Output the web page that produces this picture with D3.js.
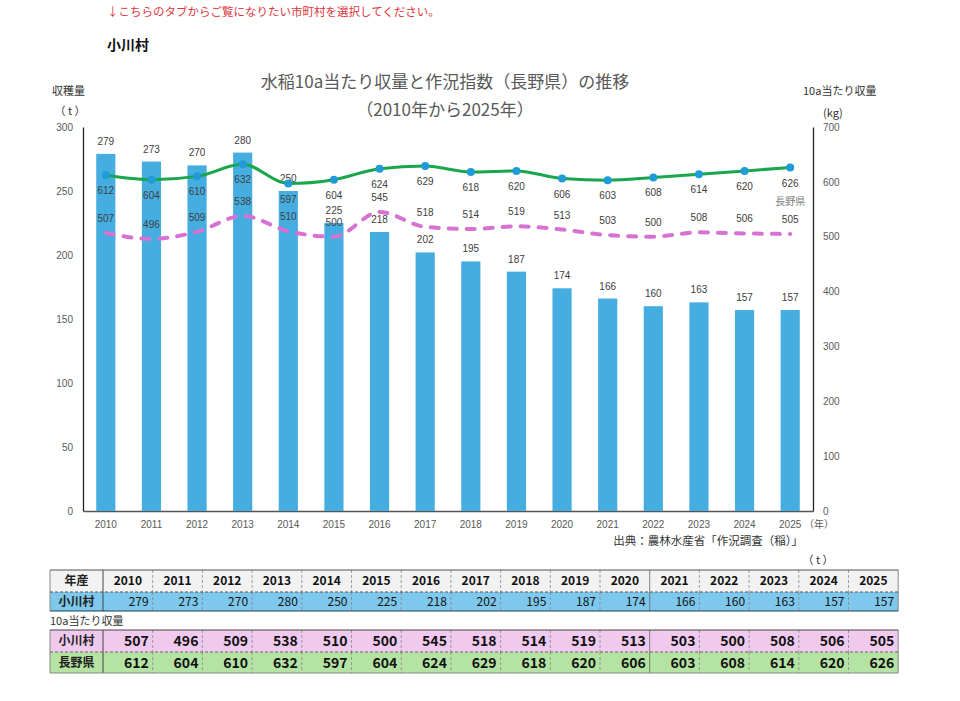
<!DOCTYPE html>
<html>
<head>
<meta charset="utf-8">
<script src="https://cdn.jsdelivr.net/npm/d3@7"></script>
<style>
  body { margin: 0; background: #fff; }
  svg { display: block; font-family: "Liberation Sans", Arial, sans-serif; }
  .jp { font-family: "Noto Sans CJK JP", "Noto Sans", sans-serif; }
</style>
</head>
<body>
<div class="chart"></div>
<script>
// data
var years = ["2010","2011","2012","2013","2014","2015","2016","2017","2018","2019","2020","2021","2022","2023","2024","2025"];
var harvest = [279, 273, 270, 280, 250, 225, 218, 202, 195, 187, 174, 166, 160, 163, 157, 157];   // 小川村 収穫量 (t)
var yieldOgawa = [507, 496, 509, 538, 510, 500, 545, 518, 514, 519, 513, 503, 500, 508, 506, 505]; // 小川村 10a当たり (kg)
var yieldNagano = [612, 604, 610, 632, 597, 604, 624, 629, 618, 620, 606, 603, 608, 614, 620, 626]; // 長野県 10a当たり (kg)
var leftTicks = [0, 50, 100, 150, 200, 250, 300];
var rightTicks = [0, 100, 200, 300, 400, 500, 600, 700];

function chart() {
    var plot = {left: 83, right: 813, top: 127, bottom: 511};

    var svg = d3.select(".chart").append("svg")
            .attr("width", 960)
            .attr("height", 701);

    var x = d3.scaleBand()
                .domain(years)
                .range([plot.left, plot.right])
                .paddingInner(0.58)
                .paddingOuter(0.29);

    var yL = d3.scaleLinear()
                .domain([0, 300])
                .range([plot.bottom, plot.top]);

    var yR = d3.scaleLinear()
                .domain([0, 700])
                .range([plot.bottom, plot.top]);

    // header texts
    svg.append("text").attr("class", "jp")
        .attr("x", 107).attr("y", 16)
        .attr("font-size", 11.5).attr("fill", "#e0353b")
        .text("↓こちらのタブからご覧になりたい市町村を選択してください。");
    svg.append("text").attr("class", "jp")
        .attr("x", 107).attr("y", 50)
        .attr("font-size", 14).attr("font-weight", "bold").attr("fill", "#111")
        .text("小川村");

    svg.append("text").attr("class", "jp")
        .attr("x", 445).attr("y", 88).attr("text-anchor", "middle")
        .attr("font-size", 17).attr("fill", "#595959")
        .text("水稲10a当たり収量と作況指数（長野県）の推移");
    svg.append("text").attr("class", "jp")
        .attr("x", 445).attr("y", 116).attr("text-anchor", "middle")
        .attr("font-size", 17).attr("fill", "#595959")
        .text("（2010年から2025年）");

    svg.append("text").attr("class", "jp")
        .attr("x", 52).attr("y", 95)
        .attr("font-size", 11).attr("fill", "#333")
        .text("収穫量");
    svg.append("text").attr("class", "jp")
        .attr("x", 70).attr("y", 115).attr("text-anchor", "middle")
        .attr("font-size", 11).attr("fill", "#333")
        .text("（ t ）");
    svg.append("text").attr("class", "jp")
        .attr("x", 803).attr("y", 95)
        .attr("font-size", 11).attr("fill", "#333")
        .text("10a当たり収量");
    svg.append("text").attr("class", "jp")
        .attr("x", 823).attr("y", 117)
        .attr("font-size", 11).attr("fill", "#333")
        .text("(kg)");

    // axes
    var yAxisL = d3.axisLeft(yL).tickValues(leftTicks).tickSize(0).tickPadding(10);
    var yAxisR = d3.axisRight(yR).tickValues(rightTicks).tickSize(0).tickPadding(10);
    var xAxis = d3.axisBottom(x).tickSize(0).tickPadding(10);

    var gl = svg.append("g")
            .attr("transform", "translate(" + plot.left + ",0)")
            .call(yAxisL);
    var gr = svg.append("g")
            .attr("transform", "translate(" + plot.right + ",0)")
            .call(yAxisR);
    var gx = svg.append("g")
            .attr("transform", "translate(0," + plot.bottom + ")")
            .call(xAxis);

    [gl, gr, gx].forEach(function (g) {
        g.selectAll("text").attr("font-size", 10).attr("fill", "#595959")
            .attr("font-family", "Liberation Sans, Arial, sans-serif");
    });
    gl.select(".domain").attr("stroke", "#222").attr("stroke-width", 1.3);
    gr.select(".domain").attr("stroke", "#222").attr("stroke-width", 1.3);
    gx.select(".domain").attr("stroke", "#555").attr("stroke-width", 1.3);

    svg.append("text").attr("class", "jp")
        .attr("x", 804).attr("y", 528)
        .attr("font-size", 10).attr("fill", "#595959")
        .text("（年）");
    svg.append("text").attr("class", "jp")
        .attr("x", 803).attr("y", 545).attr("text-anchor", "end")
        .attr("font-size", 11.5).attr("fill", "#333")
        .text("出典：農林水産省「作況調査（稲）」");

    // bars
    svg.append("g").selectAll("rect")
        .data(harvest)
        .join("rect")
        .attr("x", function (d, i) { return x(years[i]); })
        .attr("y", function (d) { return yL(d); })
        .attr("width", x.bandwidth())
        .attr("height", function (d) { return plot.bottom - yL(d); })
        .attr("fill", "#45ade0");

    svg.append("g").selectAll("text")
        .data(harvest)
        .join("text")
        .attr("x", function (d, i) { return x(years[i]) + x.bandwidth() / 2; })
        .attr("y", function (d) { return yL(d) - 9; })
        .attr("text-anchor", "middle")
        .attr("font-size", 10).attr("fill", "#404040")
        .text(function (d) { return d; });

    var cx = function (d, i) { return x(years[i]) + x.bandwidth() / 2; };

    // 小川村 dashed line
    var lineO = d3.line()
            .x(cx)
            .y(function (d) { return yR(d); })
            .curve(d3.curveMonotoneX);
    svg.append("path")
        .datum(yieldOgawa)
        .attr("d", lineO)
        .attr("fill", "none")
        .attr("stroke", "#d672d2")
        .attr("stroke-width", 4)
        .attr("stroke-linecap", "round")
        .attr("stroke-dasharray", "8,10");

    svg.append("g").selectAll("text")
        .data(yieldOgawa)
        .join("text")
        .attr("x", cx)
        .attr("y", function (d) { return yR(d) - 11; })
        .attr("text-anchor", "middle")
        .attr("font-size", 10).attr("fill", "#404040")
        .text(function (d) { return d; });

    // 長野県 line
    var lineN = d3.line()
            .x(cx)
            .y(function (d) { return yR(d); })
            .curve(d3.curveMonotoneX);
    svg.append("path")
        .datum(yieldNagano)
        .attr("d", lineN)
        .attr("fill", "none")
        .attr("stroke", "#1aa64c")
        .attr("stroke-width", 3);

    svg.append("g").selectAll("circle")
        .data(yieldNagano)
        .join("circle")
        .attr("cx", cx)
        .attr("cy", function (d) { return yR(d); })
        .attr("r", 4)
        .attr("fill", "#1f9bd7");

    svg.append("g").selectAll("text")
        .data(yieldNagano)
        .join("text")
        .attr("x", cx)
        .attr("y", function (d) { return yR(d) + 19; })
        .attr("text-anchor", "middle")
        .attr("font-size", 10).attr("fill", "#404040")
        .text(function (d) { return d; });

    var last = years.length - 1;
    svg.append("text").attr("class", "jp")
        .attr("x", cx(null, last)).attr("y", yR(yieldNagano[last]) + 37)
        .attr("text-anchor", "middle")
        .attr("font-size", 10).attr("fill", "#7f7f7f")
        .text("長野県");

    table(svg);
}

function table(svg) {
    var t = {left: 50, labelW: 53, colW: 49.7};
    var right = t.left + t.labelW + t.colW * years.length;
    var colX = function (i) { return t.left + t.labelW + i * t.colW; };

    svg.append("text").attr("class", "jp")
        .attr("x", 818).attr("y", 564).attr("text-anchor", "middle")
        .attr("font-size", 11).attr("fill", "#333")
        .text("（ t ）");

    var rows = [
        {top: 570, h: 22, fill: "#f2f2f2", label: "年産", values: years, bold: true, size: 12, align: "middle"},
        {top: 592, h: 19, fill: "#7dc8ec", label: "小川村", values: harvest, bold: false, size: 12, align: "end"},
        {top: 630, h: 22, fill: "#f0c9ef", label: "小川村", values: yieldOgawa, bold: true, size: 14, align: "end"},
        {top: 652, h: 21, fill: "#b5e3a3", label: "長野県", values: yieldNagano, bold: true, size: 14, align: "end"}
    ];

    var g = svg.append("g");
    rows.forEach(function (r) {
        g.append("rect")
            .attr("x", t.left).attr("y", r.top)
            .attr("width", right - t.left).attr("height", r.h)
            .attr("fill", r.fill);
        g.append("text").attr("class", "jp")
            .attr("x", t.left + t.labelW / 2).attr("y", r.top + r.h / 2)
            .attr("dy", "0.36em")
            .attr("text-anchor", "middle")
            .attr("font-size", 12).attr("font-weight", "bold").attr("fill", "#222")
            .text(r.label);
        r.values.forEach(function (v, i) {
            g.append("text").attr("class", "jp")
                .attr("x", r.align === "middle" ? colX(i) + t.colW / 2 : colX(i + 1) - 4)
                .attr("y", r.top + r.h / 2)
                .attr("dy", "0.36em")
                .attr("text-anchor", r.align)
                .attr("font-size", r.size)
                .attr("font-weight", r.bold ? "bold" : "normal")
                .attr("fill", "#111")
                .text(v);
        });
        // vertical dividers
        for (var i = 1; i < years.length; i++) {
            g.append("line")
                .attr("x1", colX(i)).attr("x2", colX(i))
                .attr("y1", r.top).attr("y2", r.top + r.h)
                .attr("stroke", i === 11 ? "#666" : "#888")
                .attr("stroke-width", 0.8)
                .attr("stroke-dasharray", i === 11 ? null : "3,2");
        }
        g.append("line")
            .attr("x1", colX(0)).attr("x2", colX(0))
            .attr("y1", r.top).attr("y2", r.top + r.h)
            .attr("stroke", "#444");
        g.append("line")
            .attr("x1", t.left).attr("x2", t.left)
            .attr("y1", r.top).attr("y2", r.top + r.h)
            .attr("stroke", "#888");
        g.append("line")
            .attr("x1", right).attr("x2", right)
            .attr("y1", r.top).attr("y2", r.top + r.h)
            .attr("stroke", "#888");
    });

    var hline = function (y, color, dash) {
        g.append("line")
            .attr("x1", t.left).attr("x2", right)
            .attr("y1", y).attr("y2", y)
            .attr("stroke", color).attr("stroke-width", 1)
            .attr("stroke-dasharray", dash);
    };
    hline(570, "#555", null);
    hline(592, "#555", "3,2");
    hline(611, "#1e3f4f", null);
    hline(630, "#444", null);
    hline(652, "#666", "3,2");
    hline(673, "#888", null);

    svg.append("text").attr("class", "jp")
        .attr("x", 50).attr("y", 625)
        .attr("font-size", 11).attr("fill", "#333")
        .text("10a当たり収量");
}

chart();
</script>
</body>
</html>
